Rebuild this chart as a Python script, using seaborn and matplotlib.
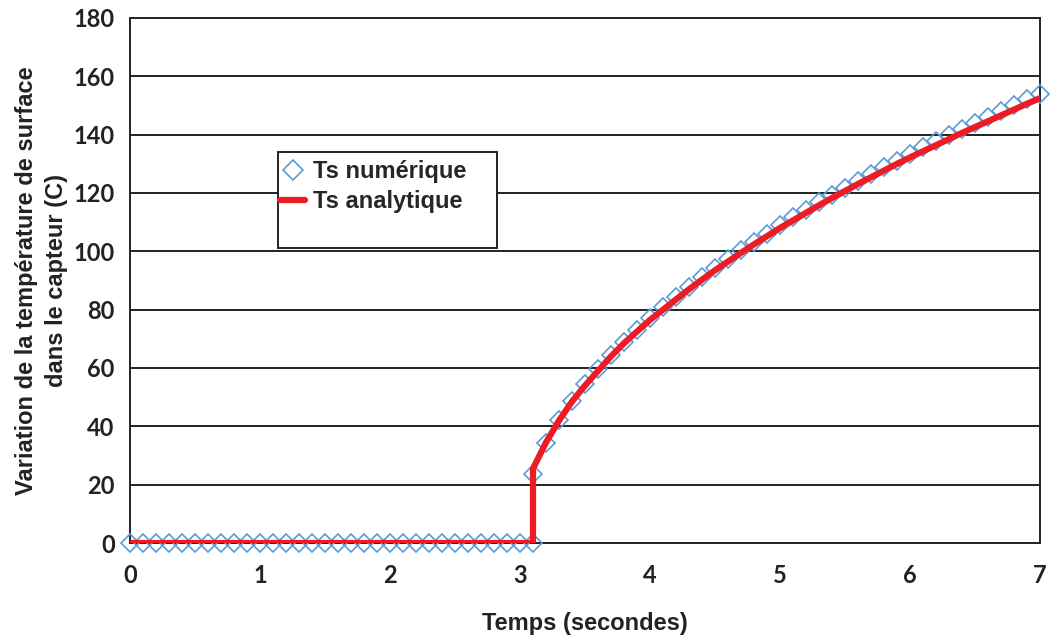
import numpy as np
import pandas as pd
import matplotlib.pyplot as plt
import matplotlib.patches as mpatches
import seaborn as sns

# Ts numérique : points (pas de 0.1 s)
t_num = [0.0, 0.1, 0.2, 0.3, 0.4, 0.5, 0.6, 0.7, 0.8, 0.9,
         1.0, 1.1, 1.2, 1.3, 1.4, 1.5, 1.6, 1.7, 1.8, 1.9,
         2.0, 2.1, 2.2, 2.3, 2.4, 2.5, 2.6, 2.7, 2.8, 2.9,
         3.0, 3.1,
         3.1, 3.2, 3.3, 3.4, 3.5, 3.6, 3.7, 3.8, 3.9,
         4.0, 4.1, 4.2, 4.3, 4.4, 4.5, 4.6, 4.7, 4.8, 4.9,
         5.0, 5.1, 5.2, 5.3, 5.4, 5.5, 5.6, 5.7, 5.8, 5.9,
         6.0, 6.1, 6.2, 6.3, 6.4, 6.5, 6.6, 6.7, 6.8, 6.9, 7.0]
ts_num = [0] * 32 + [
    23.5, 34.4, 42.2, 48.7, 54.4, 59.6, 64.4, 68.9, 73.0,
    77.0, 80.8, 84.3, 87.8, 91.1, 94.3, 97.4, 100.4, 103.3, 106.1,
    108.9, 111.6, 114.2, 116.8, 119.3, 121.7, 124.2, 126.5, 128.8, 131.1,
    133.4, 135.6, 137.7, 139.9, 142.0, 144.1, 146.1, 148.1, 150.1, 152.1, 154.0]

# Ts analytique
t_ana = [0.0, 3.1,
         3.1, 3.2, 3.3, 3.4, 3.5, 3.6, 3.7, 3.8, 3.9,
         4.0, 4.1, 4.2, 4.3, 4.4, 4.5, 4.6, 4.7, 4.8, 4.9,
         5.0, 5.1, 5.2, 5.3, 5.4, 5.5, 5.6, 5.7, 5.8, 5.9,
         6.0, 6.1, 6.2, 6.3, 6.4, 6.5, 6.6, 6.7, 6.8, 6.9, 7.0]
ts_ana = [0, 0,
          25.5, 34.5, 42.0, 48.5, 54.0, 59.0, 64.0, 68.5, 72.5,
          76.5, 80.0, 83.5, 87.0, 90.3, 93.5, 96.5, 99.5, 102.4, 105.2,
          108.0, 110.6, 113.2, 115.8, 118.3, 120.7, 123.1, 125.4, 127.7, 130.0,
          132.2, 134.3, 136.4, 138.5, 140.6, 142.6, 144.6, 146.6, 148.6, 150.6, 152.5]

df_num = pd.DataFrame({'t': t_num, 'Ts': ts_num})
df_ana = pd.DataFrame({'t': t_ana, 'Ts': ts_ana})

sns.set_style('white')
plt.rcParams['font.family'] = ['Liberation Sans', 'DejaVu Sans']

fig = plt.figure(figsize=(10.52, 6.38), dpi=100)
ax = fig.add_axes([0.1236, 0.1489, 0.865, 0.8229])

sns.lineplot(data=df_num, x='t', y='Ts', ax=ax, estimator=None, sort=False,
             linestyle='', marker='D', markersize=9.5, markerfacecolor='none',
             markeredgecolor='#5B9BD5', markeredgewidth=1.2, color='#5B9BD5',
             label='Ts numérique', clip_on=False, zorder=3)
sns.lineplot(data=df_ana, x='t', y='Ts', ax=ax, estimator=None, sort=False,
             color='#ED1C24', linewidth=4.5, label='Ts analytique',
             solid_joinstyle='miter', zorder=4)

ax.set_xlim(0, 7)
ax.set_ylim(0, 180)
ax.set_xticks(range(0, 8))
ax.set_yticks(range(0, 181, 20))
ax.yaxis.grid(True, color='#222222', linewidth=1.4)
ax.xaxis.grid(False)
ax.set_axisbelow(True)
for s in ax.spines.values():
    s.set_color('#222222')
    s.set_linewidth(1.4)
ax.tick_params(length=0, labelsize=17, colors='#222222')
ax.tick_params(axis='x', pad=15)
ax.tick_params(axis='y', pad=11)
for lab in ax.get_xticklabels() + ax.get_yticklabels():
    lab.set_family(['Lato', 'DejaVu Sans'])
    lab.set_fontweight('bold')

ax.set_xlabel('Temps (secondes)', fontsize=17, fontweight='bold',
              color='#222222', labelpad=18)
ax.set_ylabel('Variation de la température de surface\ndans le capteur (C)',
              fontsize=17, fontweight='bold', color='#222222', labelpad=4,
              linespacing=1.4)

# cadre de la légende
rect = mpatches.Rectangle((0.1626, 0.5619), 0.2407, 0.1829, transform=ax.transAxes,
                          facecolor='white', edgecolor='#222222', linewidth=1.4,
                          zorder=5)
ax.add_patch(rect)
handles, labels = ax.get_legend_handles_labels()
leg = ax.legend(handles, labels, loc='upper left', bbox_to_anchor=(0.165, 0.729),
                frameon=False, borderaxespad=0, borderpad=0,
                handlelength=1.05, handletextpad=0.35,
                labelspacing=0.3, prop={'size': 17, 'weight': 'bold'})
leg.set_zorder(6)
for h in leg.legend_handles:
    if h.get_marker() == 'D':
        h.set_markersize(10)

fig.savefig('out.png', dpi=100)
